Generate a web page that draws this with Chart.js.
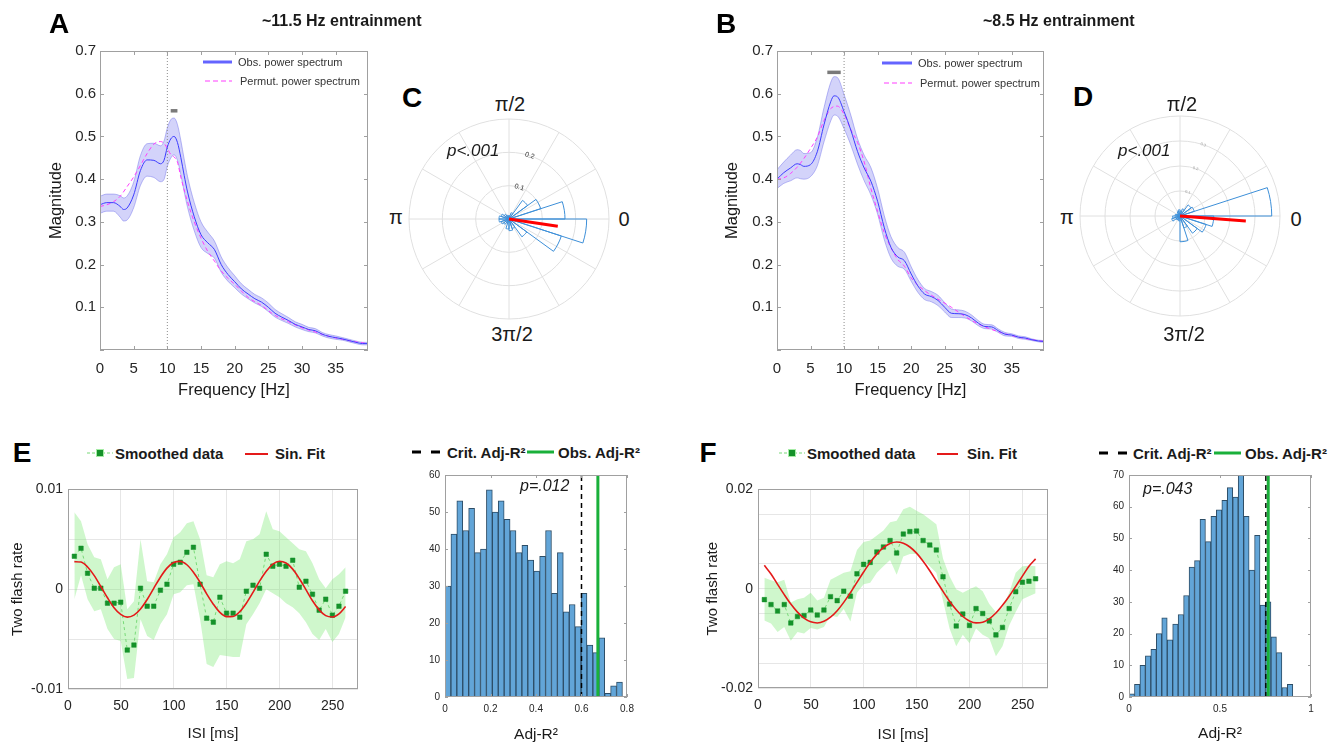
<!DOCTYPE html>
<html>
<head>
<meta charset="utf-8">
<title>Entrainment figure</title>
<script src="https://cdn.jsdelivr.net/npm/chart.js@4.4.1/dist/chart.umd.min.js"></script>
<style>
  body { margin: 0; background: #fff; }
  #fig { position: relative; width: 1344px; height: 746px; overflow: hidden;
         font-family: 'Liberation Sans', Arial, Helvetica, sans-serif; color: #1a1a1a; }
  #fig canvas { position: absolute; }
  .txt { position: absolute; white-space: nowrap; line-height: 1; }
  .ctr { transform: translate(-50%, -50%); }
  .mid { transform: translateY(-50%); }
  .letter { font-size: 28px; font-weight: bold; color: #000; }
  .title { font-size: 16px; font-weight: bold; }
  .polar { font-size: 20px; }
  .pval { font-style: italic; }
  .leg { font-size: 11px; color: #333; }
  .legb { font-size: 15px; font-weight: bold; }
  .sw { position: absolute; overflow: visible; }
</style>
</head>
<body>
<div id="fig">
  <canvas id="chartA" width="335" height="366" style="left:43px;top:38px"></canvas>
  <canvas id="chartB" width="335" height="366" style="left:719px;top:38px"></canvas>
  <canvas id="roseC" width="208" height="208" style="left:405px;top:115px"></canvas>
  <canvas id="roseD" width="204" height="204" style="left:1078px;top:114px"></canvas>
  <canvas id="chartE" width="367" height="271" style="left:5px;top:476px"></canvas>
  <canvas id="chartF" width="362" height="272" style="left:700px;top:476px"></canvas>
  <canvas id="histE" width="228" height="284" style="left:415px;top:464px"></canvas>
  <canvas id="histF" width="228" height="283" style="left:1099px;top:464px"></canvas>

  <!-- panel letters and titles -->
  <div class="txt ctr letter" style="left:59px;top:24px">A</div>
  <div class="txt ctr letter" style="left:726px;top:24px">B</div>
  <div class="txt ctr letter" style="left:412px;top:98px">C</div>
  <div class="txt ctr letter" style="left:1083px;top:97px">D</div>
  <div class="txt ctr letter" style="left:22px;top:453px">E</div>
  <div class="txt ctr letter" style="left:708px;top:453px">F</div>
  <div class="txt mid title" style="left:262px;top:21px">~11.5 Hz entrainment</div>
  <div class="txt mid title" style="left:983px;top:21px">~8.5 Hz entrainment</div>

  <!-- A / B legends -->
  <svg class="sw" style="left:203px;top:60px" width="29" height="4"><line x1="0" y1="2" x2="29" y2="2" stroke="#6464ff" stroke-width="3"/></svg>
  <div class="txt mid leg" style="left:238px;top:62px">Obs. power spectrum</div>
  <svg class="sw" style="left:205px;top:80px" width="27" height="2"><line x1="0" y1="1" x2="27" y2="1" stroke="#ff3cff" stroke-width="1" stroke-dasharray="5 3"/></svg>
  <div class="txt mid leg" style="left:240px;top:81px">Permut. power spectrum</div>
  <svg class="sw" style="left:882px;top:61px" width="30" height="4"><line x1="0" y1="2" x2="30" y2="2" stroke="#6464ff" stroke-width="3"/></svg>
  <div class="txt mid leg" style="left:918px;top:63px">Obs. power spectrum</div>
  <svg class="sw" style="left:884px;top:82px" width="28" height="2"><line x1="0" y1="1" x2="28" y2="1" stroke="#ff3cff" stroke-width="1" stroke-dasharray="5 3"/></svg>
  <div class="txt mid leg" style="left:920px;top:83px">Permut. power spectrum</div>

  <!-- polar labels -->
  <div class="txt ctr polar" style="left:510px;top:104px">π/2</div>
  <div class="txt ctr polar" style="left:624px;top:219px">0</div>
  <div class="txt ctr polar" style="left:396px;top:217px">π</div>
  <div class="txt ctr polar" style="left:512px;top:334px">3π/2</div>
  <div class="txt mid pval" style="left:447px;top:150px;font-size:17px">p&lt;.001</div>
  <div class="txt ctr polar" style="left:1182px;top:104px">π/2</div>
  <div class="txt ctr polar" style="left:1296px;top:219px">0</div>
  <div class="txt ctr polar" style="left:1067px;top:217px">π</div>
  <div class="txt ctr polar" style="left:1184px;top:334px">3π/2</div>
  <div class="txt mid pval" style="left:1118px;top:150px;font-size:17px">p&lt;.001</div>

  <!-- E / F legends -->
  <svg class="sw" style="left:87px;top:447px" width="26" height="12"><line x1="0" y1="6" x2="26" y2="6" stroke="#78d978" stroke-width="1" stroke-dasharray="3 2"/><rect x="9.5" y="2.5" width="7" height="7" fill="#15922a" stroke="#a6eca6" stroke-width="1"/></svg>
  <div class="txt mid legb" style="left:115px;top:453px">Smoothed data</div>
  <svg class="sw" style="left:245px;top:452px" width="23" height="4"><line x1="0" y1="2" x2="23" y2="2" stroke="#e41a1a" stroke-width="2"/></svg>
  <div class="txt mid legb" style="left:275px;top:453px">Sin. Fit</div>
  <svg class="sw" style="left:779px;top:447px" width="26" height="12"><line x1="0" y1="6" x2="26" y2="6" stroke="#78d978" stroke-width="1" stroke-dasharray="3 2"/><rect x="9.5" y="2.5" width="7" height="7" fill="#15922a" stroke="#a6eca6" stroke-width="1"/></svg>
  <div class="txt mid legb" style="left:807px;top:453px">Smoothed data</div>
  <svg class="sw" style="left:937px;top:452px" width="21" height="4"><line x1="0" y1="2" x2="21" y2="2" stroke="#e41a1a" stroke-width="2"/></svg>
  <div class="txt mid legb" style="left:967px;top:453px">Sin. Fit</div>

  <!-- histogram legends -->
  <svg class="sw" style="left:412px;top:449px" width="28" height="6"><line x1="0" y1="3" x2="28" y2="3" stroke="#000" stroke-width="3" stroke-dasharray="9 10"/></svg>
  <div class="txt mid legb" style="left:447px;top:452px">Crit. Adj-R²</div>
  <svg class="sw" style="left:527px;top:450px" width="27" height="4"><line x1="0" y1="2" x2="27" y2="2" stroke="#19b03a" stroke-width="3"/></svg>
  <div class="txt mid legb" style="left:558px;top:452px">Obs. Adj-R²</div>
  <div class="txt mid pval" style="left:520px;top:486px;font-size:16px">p=.012</div>
  <svg class="sw" style="left:1099px;top:450px" width="29" height="6"><line x1="0" y1="3" x2="29" y2="3" stroke="#000" stroke-width="3" stroke-dasharray="9 10"/></svg>
  <div class="txt mid legb" style="left:1133px;top:453px">Crit. Adj-R²</div>
  <svg class="sw" style="left:1214px;top:451px" width="27" height="4"><line x1="0" y1="2" x2="27" y2="2" stroke="#19b03a" stroke-width="3"/></svg>
  <div class="txt mid legb" style="left:1245px;top:453px">Obs. Adj-R²</div>
  <div class="txt mid pval" style="left:1143px;top:489px;font-size:16px">p=.043</div>
</div>

<script>
// power spectra (A: ~11.5 Hz group, B: ~8.5 Hz group)
const freqA = [0,1,2,3,3.5,4,5,6,7,8,9,9.5,10,10.5,11,11.5,12,12.5,13,14,15,16,17,18,19,20,21,22,23,24,25,26,27,28,29,30,31,32,33,34,35,36,37,38,39,39.8];
const obsA = [0.340,0.345,0.345,0.336,0.329,0.332,0.363,0.420,0.445,0.444,0.436,0.444,0.475,0.494,0.500,0.486,0.451,0.409,0.370,0.312,0.270,0.251,0.235,0.200,0.177,0.160,0.143,0.131,0.120,0.112,0.100,0.086,0.077,0.069,0.060,0.054,0.048,0.045,0.037,0.032,0.029,0.026,0.022,0.018,0.015,0.015];
const obsUpperA = [0.360,0.365,0.365,0.361,0.356,0.360,0.393,0.455,0.483,0.484,0.478,0.489,0.520,0.539,0.543,0.528,0.491,0.447,0.406,0.345,0.300,0.276,0.255,0.218,0.193,0.174,0.155,0.142,0.130,0.122,0.110,0.095,0.085,0.076,0.066,0.060,0.053,0.050,0.041,0.036,0.033,0.029,0.025,0.021,0.018,0.018];
const obsLowerA = [0.320,0.325,0.325,0.311,0.302,0.304,0.333,0.385,0.407,0.404,0.394,0.399,0.430,0.449,0.457,0.444,0.411,0.371,0.334,0.279,0.240,0.226,0.215,0.182,0.161,0.146,0.131,0.120,0.110,0.102,0.090,0.077,0.069,0.062,0.054,0.048,0.043,0.040,0.033,0.028,0.025,0.023,0.019,0.015,0.012,0.012];
const permFreqA = [0,1,2,3,4,5,6,7,8,9,9.5,10,10.5,11,11.5,12,13,14,15,16,17,18,19,20,22,24,26,28,30,32,34,36,38,39.8];
const permA = [0.336,0.340,0.347,0.360,0.382,0.405,0.432,0.460,0.482,0.488,0.484,0.472,0.458,0.452,0.440,0.405,0.347,0.300,0.262,0.231,0.208,0.185,0.168,0.154,0.123,0.104,0.081,0.066,0.052,0.042,0.032,0.025,0.019,0.015];
const sigSpanA = [10.5, 11.5];
const sigLevelA = 0.56;

const freqB = [0,1,2,3,3.5,4,5,6,7,8,8.5,9,10,11,12,13,14,15,16,17,18,19,20,21,22,23,24,25,26,27,28,29,30,31,32,33,34,35,36,37,38,39,39.8];
const obsB = [0.400,0.415,0.426,0.436,0.434,0.430,0.434,0.464,0.527,0.581,0.595,0.593,0.558,0.515,0.465,0.426,0.395,0.348,0.286,0.240,0.218,0.209,0.178,0.150,0.131,0.125,0.116,0.100,0.086,0.085,0.083,0.075,0.063,0.055,0.054,0.045,0.037,0.035,0.030,0.028,0.024,0.021,0.020];
const obsUpperB = [0.422,0.440,0.456,0.469,0.467,0.460,0.462,0.497,0.567,0.626,0.640,0.638,0.598,0.550,0.495,0.456,0.427,0.378,0.314,0.265,0.240,0.229,0.195,0.165,0.144,0.137,0.128,0.111,0.096,0.094,0.091,0.082,0.069,0.060,0.059,0.049,0.041,0.038,0.033,0.031,0.026,0.023,0.022];
const obsLowerB = [0.378,0.390,0.396,0.403,0.401,0.400,0.406,0.431,0.487,0.536,0.550,0.548,0.518,0.480,0.435,0.396,0.363,0.318,0.258,0.215,0.196,0.189,0.161,0.135,0.118,0.113,0.104,0.089,0.076,0.076,0.075,0.068,0.057,0.050,0.049,0.041,0.033,0.032,0.027,0.025,0.022,0.019,0.018];
const permFreqB = [0,1,2,3,4,5,6,7,8,9,10,11,12,13,14,15,16,17,18,19,20,22,24,26,28,30,32,34,36,38,39.8];
const permB = [0.400,0.403,0.413,0.428,0.448,0.472,0.498,0.537,0.565,0.571,0.552,0.516,0.486,0.440,0.378,0.324,0.274,0.239,0.212,0.196,0.169,0.139,0.119,0.100,0.079,0.061,0.048,0.038,0.030,0.024,0.020];
const sigSpanB = [7.5, 9.5];
const sigLevelB = 0.65;
const stimFreq = 10;

// phase roses, 20 bins of 18 deg counter-clockwise from 0 rad
const roseC = [0.168,0.100,0.069,0.020,0.010,0.010,0.012,0.018,0.025,0.030,0.030,0.025,0.020,0.012,0.030,0.035,0.030,0.066,0.165,0.233];
const roseD = [0.367,0.060,0.055,0.030,0.020,0.025,0.020,0.012,0.015,0.020,0.030,0.035,0.020,0.015,0.020,0.103,0.050,0.085,0.110,0.135];
const meanAngleC = -8.5, meanLengthC = 0.148;
const meanAngleD = -4.3, meanLengthD = 0.264;

// two-flash rate over ISI
const isi = [6,12.3,18.5,24.8,31,37.3,43.5,49.8,56,62.3,68.5,74.8,81,87.3,93.5,99.8,106,112.3,118.5,124.8,131,137.3,143.5,149.8,156,162.3,168.5,174.8,181,187.3,193.5,199.8,206,212.3,218.5,224.8,231,237.3,243.5,249.8,256,262.3];
const smoothE = [0.0033,0.0041,0.0016,0.0001,0.0001,-0.0014,-0.0014,-0.0013,-0.0061,-0.0056,0.0001,-0.0017,-0.0017,-0.0001,0.0005,0.0025,0.0027,0.0037,0.0042,0.0005,-0.0029,-0.0033,-0.0008,-0.0024,-0.0024,-0.0028,-0.0002,0.0004,0.0001,0.0035,0.0023,0.0025,0.0023,0.0029,0.0002,0.0008,-0.0005,-0.0021,-0.0010,-0.0026,-0.0017,-0.0002];
const upperE = [0.0077,0.0068,0.0045,0.0032,0.0030,0.0010,0.0022,0.0025,-0.0020,-0.0012,0.0050,0.0008,0.0007,0.0025,0.0035,0.0052,0.0057,0.0066,0.0068,0.0050,0.0014,0.0012,0.0025,0.0028,0.0026,0.0030,0.0048,0.0050,0.0055,0.0078,0.0060,0.0058,0.0052,0.0046,0.0040,0.0038,0.0026,0.0010,0.0001,0.0010,0.0015,0.0022];
const lowerE = [-0.0010,0.0014,-0.0010,-0.0022,-0.0020,-0.0040,-0.0050,-0.0052,-0.0090,-0.0089,-0.0030,-0.0047,-0.0051,-0.0035,-0.0025,-0.0005,-0.0003,0.0004,0.0005,-0.0030,-0.0075,-0.0078,-0.0066,-0.0067,-0.0068,-0.0068,-0.0035,-0.0025,-0.0014,0.0000,-0.0004,-0.0008,-0.0014,-0.0018,-0.0024,-0.0033,-0.0045,-0.0051,-0.0040,-0.0053,-0.0045,-0.0028];
const sineE = [0.00276,0.00272,0.00222,0.00136,0.00027,-0.00086,-0.00185,-0.00253,-0.00280,-0.00260,-0.00198,-0.00103,0.00009,0.00120,0.00211,0.00267,0.00279,0.00245,0.00170,0.00069,-0.00046,-0.00150,-0.00233,-0.00275,-0.00273,-0.00225,-0.00140,-0.00032,0.00081,0.00181,0.00251,0.00280,0.00262,0.00201,0.00107,-0.00004,-0.00116,-0.00207,-0.00265,-0.00279,-0.00247,-0.00174];

const smoothF = [-0.0022,-0.0032,-0.0045,-0.0032,-0.0069,-0.0056,-0.0054,-0.0043,-0.0053,-0.0043,-0.0016,-0.0024,-0.0005,-0.0015,0.0030,0.0049,0.0053,0.0074,0.0084,0.0097,0.0072,0.0110,0.0115,0.0116,0.0097,0.0088,0.0078,0.0024,-0.0031,-0.0075,-0.0051,-0.0074,-0.0040,-0.0050,-0.0065,-0.0093,-0.0078,-0.0040,-0.0006,0.0013,0.0015,0.0020];
const upperF = [0.0022,0.0017,0.0013,0.0018,-0.0028,-0.0021,-0.0018,-0.0008,-0.0024,-0.0018,0.0018,0.0025,0.0032,0.0035,0.0078,0.0094,0.0097,0.0107,0.0117,0.0134,0.0137,0.0160,0.0165,0.0157,0.0150,0.0140,0.0130,0.0061,0.0025,-0.0001,-0.0008,-0.0001,0.0005,-0.0005,-0.0031,-0.0047,-0.0038,-0.0008,0.0032,0.0045,0.0046,0.0045];
const lowerF = [-0.0064,-0.0070,-0.0087,-0.0077,-0.0105,-0.0087,-0.0090,-0.0079,-0.0082,-0.0077,-0.0054,-0.0057,-0.0041,-0.0066,-0.0008,0.0009,0.0012,0.0032,0.0045,0.0058,0.0028,0.0065,0.0070,0.0070,0.0058,0.0045,0.0032,-0.0024,-0.0080,-0.0116,-0.0093,-0.0110,-0.0080,-0.0093,-0.0100,-0.0136,-0.0116,-0.0074,-0.0047,-0.0021,-0.0015,-0.0009];
const sineF = [0.0047,0.00297,0.00088,-0.00119,-0.00309,-0.00471,-0.00593,-0.00668,-0.0069,-0.00657,-0.00573,-0.00443,-0.00275,-0.0008,0.00127,0.00336,0.0053,0.00697,0.00827,0.00909,0.0094,0.00916,0.0084,0.00716,0.00553,0.00362,0.00155,-0.00054,-0.00252,-0.00423,-0.0056,-0.00649,-0.00689,-0.00674,-0.00606,-0.0049,-0.00335,-0.00152,0.00047,0.00253,0.00451,0.0060];

// permutation distributions of adjusted R^2
const countsE = [30,44,53,45,51,39,40,56,50,53,48,45,39,41,37,34,38,45,28,39,23,25,19,28,14,12,16,1,3,4];
const binWidthE = 0.026;
const critE = 0.6, obsR2E = 0.672;
const countsF = [1,4,10,13,15,20,25,18,23,26,32,41,43,56,49,57,59,62,66,63,70,57,40,51,29,30,19,14,3,4];
const binWidthF = 0.03;
const critF = 0.752, obsR2F = 0.765;

Chart.defaults.font.family = "'Liberation Sans', Arial, Helvetica, sans-serif";
Chart.defaults.color = '#262626';
Chart.defaults.animation = false;
Chart.defaults.responsive = false;
Chart.defaults.plugins.legend.display = false;
Chart.defaults.plugins.tooltip.enabled = false;
Chart.defaults.elements.point.radius = 0;

function pts(xs, ys) { return xs.map((x, i) => ({ x: x, y: ys[i] })); }

// matlab-like axes box with inward ticks
const frame = {
  id: 'frame',
  afterDatasetsDraw(chart, args, opts) {
    const ctx = chart.ctx, a = chart.chartArea;
    ctx.save();
    ctx.strokeStyle = opts.color || '#999';
    ctx.lineWidth = 1;
    if (opts.tick) {
      const L = opts.tick, xs = chart.scales.x, ys = chart.scales.y;
      ctx.beginPath();
      xs.ticks.forEach(t => {
        const p = Math.round(xs.getPixelForValue(t.value)) + 0.5;
        ctx.moveTo(p, a.bottom); ctx.lineTo(p, a.bottom - L);
        ctx.moveTo(p, a.top); ctx.lineTo(p, a.top + L);
      });
      ys.ticks.forEach(t => {
        const p = Math.round(ys.getPixelForValue(t.value)) + 0.5;
        ctx.moveTo(a.left, p); ctx.lineTo(a.left + L, p);
        ctx.moveTo(a.right, p); ctx.lineTo(a.right - L, p);
      });
      ctx.stroke();
    }
    ctx.strokeRect(Math.round(a.left) + 0.5, Math.round(a.top) + 0.5,
                   Math.round(a.right - a.left) - 1, Math.round(a.bottom - a.top) - 1);
    ctx.restore();
  }
};

// spokes every 30 deg and the red mean vector
const roseDeco = {
  id: 'roseDeco',
  beforeDatasetsDraw(chart) {
    const r = chart.scales.r, ctx = chart.ctx;
    ctx.save();
    ctx.strokeStyle = '#e0e0e0';
    ctx.lineWidth = 1;
    ctx.beginPath();
    for (let deg = 0; deg < 360; deg += 30) {
      const t = deg * Math.PI / 180;
      ctx.moveTo(r.xCenter, r.yCenter);
      ctx.lineTo(r.xCenter + r.drawingArea * Math.cos(t), r.yCenter - r.drawingArea * Math.sin(t));
    }
    ctx.stroke();
    ctx.restore();
  },
  afterDatasetsDraw(chart, args, opts) {
    const r = chart.scales.r, ctx = chart.ctx;
    const d = r.getDistanceFromCenterForValue(opts.length);
    const t = opts.angle * Math.PI / 180;
    ctx.save();
    ctx.strokeStyle = '#ff0000';
    ctx.lineWidth = 3;
    ctx.beginPath();
    ctx.moveTo(r.xCenter, r.yCenter);
    ctx.lineTo(r.xCenter + d * Math.cos(t), r.yCenter - d * Math.sin(t));
    ctx.stroke();
    ctx.restore();
  }
};

function xScale(min, max, step, pad, fs, title, tfs, h, grid, fmt) {
  const o = {
    type: 'linear', min: min, max: max, offset: false,
    grid: { display: !!grid, color: '#e6e6e6', drawTicks: false }, border: { display: false },
    ticks: { stepSize: step, includeBounds: false, padding: pad, font: { size: fs }, maxRotation: 0, autoSkip: false },
    title: { display: true, text: title, color: '#1a1a1a', font: { size: tfs }, padding: { top: 4, bottom: 4 } },
    afterFit: s => { s.height = h; }
  };
  if (fmt) o.ticks.callback = fmt;
  return o;
}
function yScale(min, max, step, pad, fs, title, tfs, w, grid, fmt) {
  const o = {
    type: 'linear', min: min, max: max,
    grid: { display: !!grid, color: '#e6e6e6', drawTicks: false }, border: { display: false },
    ticks: { stepSize: step, includeBounds: false, padding: pad, font: { size: fs }, autoSkip: false },
    title: { display: !!title, text: title || '', color: '#1a1a1a', font: { size: tfs }, padding: { top: 4, bottom: 4 } },
    afterFit: s => { s.width = w; }
  };
  if (fmt) o.ticks.callback = fmt;
  return o;
}

function spectrum(id, freq, obs, upper, lower, permFreq, perm, sigSpan, sigLevel, yW) {
  new Chart(document.getElementById(id), {
    type: 'line',
    data: { datasets: [
      { data: [{ x: sigSpan[0], y: sigLevel }, { x: sigSpan[1], y: sigLevel }], borderColor: '#7a7a7a', borderWidth: 3.5 },
      { data: pts(freq, obs), borderColor: '#3c3cff', borderWidth: 1, cubicInterpolationMode: 'monotone' },
      { data: pts(permFreq, perm), borderColor: '#ff3cff', borderWidth: 1, borderDash: [4, 3], cubicInterpolationMode: 'monotone' },
      { data: [{ x: stimFreq, y: 0 }, { x: stimFreq, y: 0.7 }], borderColor: '#8c8c8c', borderWidth: 1, borderDash: [1, 2] },
      { data: pts(freq, upper), borderColor: 'rgba(90,90,230,0.5)', borderWidth: 0.8, backgroundColor: 'rgba(110,110,240,0.3)', fill: '+1', cubicInterpolationMode: 'monotone' },
      { data: pts(freq, lower), borderColor: 'rgba(90,90,230,0.5)', borderWidth: 0.8, cubicInterpolationMode: 'monotone' }
    ]},
    options: {
      layout: { padding: { top: 10, right: 10, left: 0, bottom: 0 } },
      scales: {
        x: xScale(0, 39.8, 5, 10, 15, 'Frequency [Hz]', 16.5, 54, false),
        y: yScale(0, 0.7, 0.1, 4, 15, 'Magnitude', 16.5, yW, false, v => v > 0.001 ? v.toFixed(1) : '')
      },
      plugins: { frame: { color: '#a0a0a0', tick: 4 } }
    },
    plugins: [frame]
  });
}

function rose(id, bins, max, angle, length, tickSize, tickColor) {
  // chart.js sweeps clockwise from the top; reorder the counter-clockwise bins
  const ordered = bins.map((_, i) => bins[(23 - i) % 20]);
  new Chart(document.getElementById(id), {
    type: 'polarArea',
    data: { labels: bins.map((_, i) => 'bin ' + i),
            datasets: [{ data: ordered, backgroundColor: 'rgba(0,0,0,0)', borderColor: '#3d8fd8', borderWidth: 1 }] },
    options: {
      layout: { padding: 0 },
      scales: { r: {
        min: 0, max: max, startAngle: 18,
        grid: { circular: true, color: '#e0e0e0' },
        angleLines: { display: false },
        pointLabels: { display: false },
        ticks: { stepSize: 0.1, font: { size: tickSize }, color: tickColor, showLabelBackdrop: false, backdropPadding: 0,
                 callback: v => (v < max - 1e-9 ? v.toFixed(1) : '') }
      } },
      plugins: { roseDeco: { angle: angle, length: length } }
    },
    plugins: [roseDeco]
  });
}

function flashFmt(unit) {
  return v => {
    const r = Math.round(v * 1000) / 1000;
    return Math.abs(r / unit - Math.round(r / unit)) < 1e-6 ? (r === 0 ? '0' : String(r)) : '';
  };
}

function flashRate(id, smooth, upper, lower, sine, yMax, unit, yW, xH) {
  new Chart(document.getElementById(id), {
    type: 'line',
    data: { datasets: [
      { data: pts(isi, sine), borderColor: '#e41a1a', borderWidth: 1.6, cubicInterpolationMode: 'monotone' },
      { data: pts(isi, smooth), borderColor: '#78d978', borderWidth: 1, borderDash: [3, 3],
        pointRadius: 3.2, pointStyle: 'rect', pointBackgroundColor: '#15922a', pointBorderColor: '#15922a', pointBorderWidth: 0.5 },
      { data: pts(isi, upper), borderColor: 'rgba(0,0,0,0)', backgroundColor: 'rgba(130,235,120,0.38)', fill: '+1' },
      { data: pts(isi, lower), borderColor: 'rgba(0,0,0,0)' }
    ]},
    options: {
      layout: { padding: { top: 10, right: 14, left: 0, bottom: 0 } },
      scales: {
        x: xScale(0, 274, 50, 9, 14, 'ISI [ms]', 15, xH, true),
        y: yScale(-yMax, yMax, 0.005, 5, 14, 'Two flash rate', 15, yW, true, flashFmt(unit))
      },
      plugins: { frame: { color: '#a0a0a0' } }
    },
    plugins: [frame]
  });
}

function histogram(id, counts, binWidth, xMax, xStep, yMax, crit, obs, xH) {
  const centers = counts.map((_, i) => (i + 0.5) * binWidth);
  new Chart(document.getElementById(id), {
    type: 'bar',
    data: { datasets: [
      { type: 'line', data: [{ x: obs, y: 0 }, { x: obs, y: yMax }], borderColor: '#19b03a', borderWidth: 3 },
      { type: 'line', data: [{ x: crit, y: 0 }, { x: crit, y: yMax }], borderColor: '#000000', borderWidth: 1.5, borderDash: [5, 4] },
      { data: pts(centers, counts), backgroundColor: '#62a5d8', borderColor: '#2d4d66', borderWidth: 1,
        barPercentage: 1, categoryPercentage: 1 }
    ]},
    options: {
      layout: { padding: { top: 10, right: 16, left: 0, bottom: 0 } },
      scales: {
        x: xScale(0, xMax, xStep, 6, 10, 'Adj-R²', 15.5, xH, false, v => String(Math.round(v * 10) / 10)),
        y: yScale(0, yMax, 10, 5, 10, '', 10, 30, false)
      },
      plugins: { frame: { color: '#a0a0a0', tick: 3 } }
    },
    plugins: [frame]
  });
}

document.addEventListener('DOMContentLoaded', function () {
  spectrum('chartA', freqA, obsA, obsUpperA, obsLowerA, permFreqA, permA, sigSpanA, sigLevelA, 57);
  spectrum('chartB', freqB, obsB, obsUpperB, obsLowerB, permFreqB, permB, sigSpanB, sigLevelB, 58);
  rose('roseC', roseC, 0.3, meanAngleC, meanLengthC, 7, '#333');
  rose('roseD', roseD, 0.4, meanAngleD, meanLengthD, 4, '#999');
  flashRate('chartE', smoothE, upperE, lowerE, sineE, 0.01, 0.01, 63, 58);
  flashRate('chartF', smoothF, upperF, lowerF, sineF, 0.02, 0.02, 58, 60);
  histogram('histE', countsE, binWidthE, 0.8, 0.2, 60, critE, obsR2E, 51);
  histogram('histF', countsF, binWidthF, 1, 0.5, 70, critF, obsR2F, 50);
});
</script>
</body>
</html>
